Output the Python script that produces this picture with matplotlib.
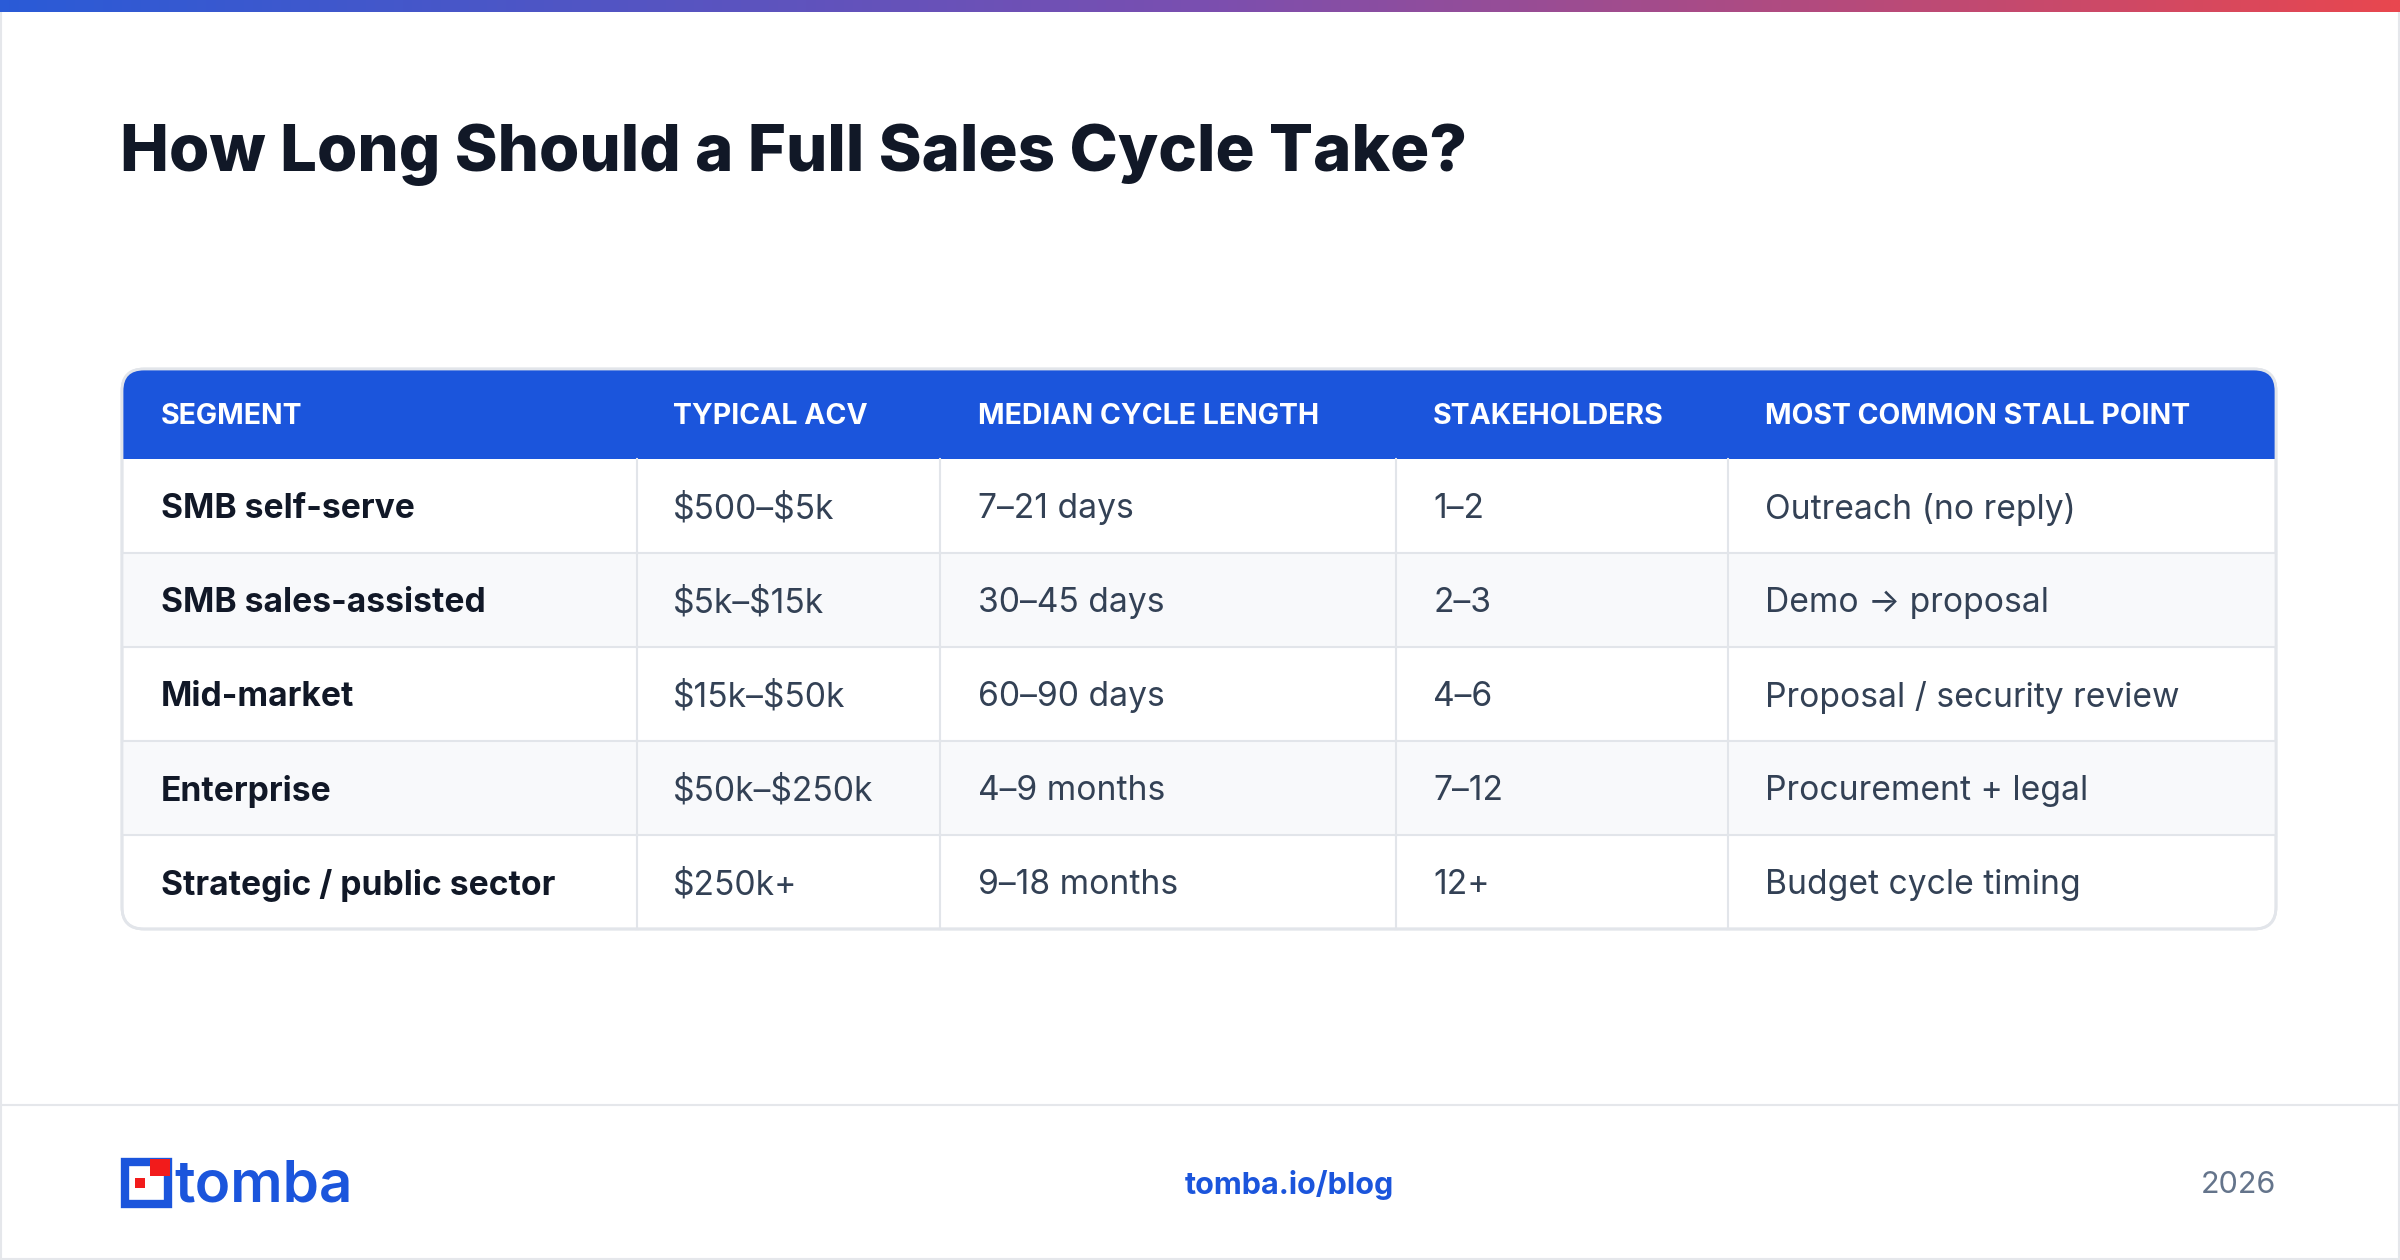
import matplotlib
matplotlib.use("Agg")
import matplotlib.pyplot as plt
import numpy as np
from matplotlib.patches import Rectangle, FancyBboxPatch
from matplotlib.colors import LinearSegmentedColormap

title = "How Long Should a Full Sales Cycle Take?"
columns = ["SEGMENT", "TYPICAL ACV", "MEDIAN CYCLE LENGTH", "STAKEHOLDERS", "MOST COMMON STALL POINT"]
segments = ["SMB self-serve", "SMB sales-assisted", "Mid-market", "Enterprise", "Strategic / public sector"]
acv = ["$500–$5k", "$5k–$15k", "$15k–$50k", "$50k–$250k", "$250k+"]
cycle = ["7–21 days", "30–45 days", "60–90 days", "4–9 months", "9–18 months"]
stakeholders = ["1–2", "2–3", "4–6", "7–12", "12+"]
stall = ["Outreach (no reply)", "Demo → proposal", "Proposal / security review", "Procurement + legal", "Budget cycle timing"]

plt.rcParams['font.family'] = ['Inter', 'DejaVu Sans']
plt.rcParams['text.parse_math'] = False
W, H = 2400, 1260
fig = plt.figure(figsize=(24, 12.6), dpi=100)
ax = fig.add_axes([0, 0, 1, 1])
ax.set_xlim(0, W); ax.set_ylim(H, 0); ax.axis('off')

grad = np.linspace(0, 1, 256).reshape(1, -1)
cm = LinearSegmentedColormap.from_list("g", ["#2a5bd7", "#7a4fb0", "#e8474f"])
ax.imshow(grad, cmap=cm, extent=[0, W, 12, 0], aspect='auto', zorder=1)
ax.set_xlim(0, W); ax.set_ylim(H, 0)
ax.add_patch(Rectangle((1, 1), W - 2, H - 2, fill=False, ec="#e5e7eb", lw=1.5, zorder=0))

ax.text(120, 155, title, fontsize=47, fontweight='heavy', color="#111827", va='center', ha='left')

x0, x1 = 122, 2276
y0 = 369
hh = 90
rh = 94
n = len(segments)
y1 = y0 + hh + rh * n
colx = [x0, 637, 940, 1396, 1728, x1]
textx = [161, 673, 978, 1433, 1765]

outer = FancyBboxPatch((x0, y0), x1 - x0, y1 - y0, boxstyle="round,pad=0,rounding_size=22",
                       fc="white", ec="#e2e5ea", lw=2, zorder=2)
ax.add_patch(outer)
hdr = Rectangle((x0, y0), x1 - x0, hh, fc="#1b55dc", ec="none", zorder=3)
ax.add_patch(hdr); hdr.set_clip_path(outer)
for i in range(n):
    ry = y0 + hh + i * rh
    if i % 2 == 1:
        r = Rectangle((x0, ry), x1 - x0, rh, fc="#f8f9fb", ec="none", zorder=3)
        ax.add_patch(r); r.set_clip_path(outer)
    if i > 0:
        ax.plot([x0, x1], [ry, ry], color="#e2e5ea", lw=1.5, zorder=4)
    for cx in colx[1:-1]:
        ax.plot([cx, cx], [ry, ry + rh], color="#e2e5ea", lw=1.5, zorder=4)
ax.add_patch(FancyBboxPatch((x0, y0), x1 - x0, y1 - y0, boxstyle="round,pad=0,rounding_size=22",
                            fc="none", ec="#e2e5ea", lw=2, zorder=5))

for j, c in enumerate(columns):
    ax.text(textx[j], y0 + hh / 2 + 3, c, fontsize=20.5, fontweight='bold', color='white',
            va='center', ha='left', zorder=6)
data = [segments, acv, cycle, stakeholders, stall]
for i in range(n):
    cy = y0 + hh + i * rh + rh / 2 + 3
    for j in range(5):
        ax.text(textx[j], cy, data[j][i], fontsize=24.2,
                fontweight='bold' if j == 0 else 'normal',
                color="#111827" if j == 0 else "#334155", va='center', ha='left', zorder=6)

ax.plot([0, W], [1105, 1105], color="#e5e7eb", lw=1.5)
blue, red = "#1b55dc", "#f21b1b"
ax.add_patch(Rectangle((125, 1162), 43, 42, fc='none', ec=blue, lw=6))
ax.add_patch(Rectangle((150, 1159), 20, 17, fc=red, ec='none', zorder=3))
ax.add_patch(Rectangle((135, 1178), 10, 10, fc=red, ec='none', zorder=3))
ax.text(174, 1186, "tomba", fontsize=42, fontweight='semibold', color=blue, va='center', ha='left')
ax.text(1289, 1185, "tomba.io/blog", fontsize=22, fontweight='bold', color=blue, va='center', ha='center')
ax.text(2276, 1185, "2026", fontsize=22, color="#64748b", va='center', ha='right')

fig.savefig("out.png", dpi=100, facecolor='white')
